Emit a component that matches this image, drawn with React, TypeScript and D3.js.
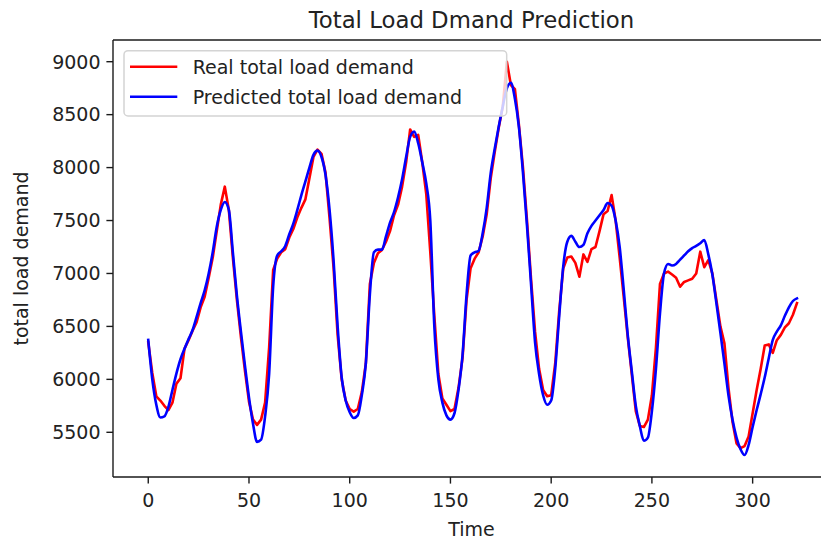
import React, { useEffect, useRef } from 'react';
import * as d3 from 'd3';

// one sample every 2 time steps
const timeStep = 2;

const realLoad = [
  6350, 6060, 5840, 5800, 5750, 5710, 5780, 5960, 6010, 6290,
  6370, 6460, 6540, 6680, 6780, 6960, 7150, 7400, 7650, 7820,
  7600, 7150, 6750, 6400, 6080, 5790, 5620, 5570, 5620, 5780,
  6300, 7033, 7140, 7200, 7230, 7340, 7420, 7530, 7620, 7700,
  7900, 8100, 8170, 8130, 7950, 7520, 7050, 6420, 6000, 5800,
  5720, 5695, 5720, 5880, 6150, 6900, 7100, 7190, 7222, 7300,
  7400, 7550, 7650, 7820, 8050, 8360, 8290, 8308, 8050, 7750,
  7200, 6600, 6050, 5820, 5760, 5700, 5720, 5920, 6200, 6750,
  7050, 7140, 7200, 7350, 7560, 7900, 8150, 8380, 8580, 9000,
  8780, 8740, 8400, 8000, 7500, 6950, 6450, 6100, 5900, 5840,
  5850, 6150, 6650, 7050, 7150, 7160, 7100, 6970, 7180, 7110,
  7230, 7250, 7400, 7560, 7590, 7740, 7500, 7150, 6780, 6400,
  6050, 5700, 5560, 5550, 5620, 5850, 6300, 6900, 7000, 7017,
  6990, 6960, 6875, 6920, 6935, 6950, 7000, 7206, 7060, 7127,
  7001, 6750, 6500, 6340, 5920, 5600, 5396, 5350, 5370, 5460,
  5680, 5900, 6100, 6320, 6330, 6250, 6370, 6420, 6490, 6530,
  6610, 6720,
];

const predictedLoad = [
  6372, 6000, 5760, 5640, 5650, 5740, 5900, 6057, 6190, 6290,
  6380, 6466, 6590, 6720, 6840, 7000, 7200, 7442, 7600, 7675,
  7600, 7200, 6790, 6450, 6130, 5830, 5580, 5410, 5430, 5650,
  6050, 6875, 7170, 7210, 7260, 7370, 7470, 7600, 7740, 7870,
  8000, 8120, 8160, 8100, 7930, 7600, 7120, 6500, 6020, 5800,
  5690, 5635, 5660, 5850, 6150, 6800, 7200, 7225, 7225, 7350,
  7480, 7580, 7720, 7890, 8100, 8290, 8340, 8230, 8050, 7850,
  7500, 6500, 6000, 5780, 5660, 5620, 5680, 5900, 6230, 6800,
  7170, 7200, 7215, 7380, 7620, 7950, 8180, 8390, 8580, 8750,
  8800, 8650, 8380, 7950, 7450, 6900, 6350, 6050, 5850, 5760,
  5800, 6100, 6600, 7070, 7300, 7355, 7300, 7250, 7270, 7380,
  7450, 7500, 7550, 7600, 7665, 7640, 7500, 7250, 6850, 6420,
  6080, 5750, 5560, 5420, 5450, 5700, 6100, 6620, 7000, 7090,
  7075, 7090, 7130, 7170, 7210, 7240, 7260, 7285, 7315, 7180,
  6990, 6720, 6440, 6150, 5850, 5620, 5450, 5340, 5285, 5380,
  5550, 5710, 5860, 6020, 6200, 6372, 6450, 6510, 6600, 6680,
  6740, 6765,
];

const xTicks = [0, 50, 100, 150, 200, 250, 300];
const yTicks = [5500, 6000, 6500, 7000, 7500, 8000, 8500, 9000];

const seriesNames = ['Real total load demand', 'Predicted total load demand'];
const seriesColors = ['#ff0000', '#0000ff'];

export default function App() {
  const svgRef = useRef<SVGSVGElement>(null);
  const width = 821;
  const height = 541;

  useEffect(() => {
    const font = 'DejaVu Sans, sans-serif';
    const box = { left: 113, right: 830, top: 40, bottom: 477 };

    const svg = d3.select(svgRef.current);
    svg.selectAll('*').remove();

    const x = d3.scaleLinear().domain([-17.5, 338.4]).range([box.left, box.right]);
    const y = d3.scaleLinear().domain([5500, 9000]).range([432.3, 61.7]);

    svg.append('rect').attr('width', width).attr('height', height).attr('fill', '#fff');

    // series: the real one is jagged, the prediction is smooth
    const curves = [d3.curveLinear, d3.curveMonotoneX];
    [realLoad, predictedLoad].forEach((values, i) => {
      const line = d3
        .line<number>()
        .x((_, j) => x(j * timeStep))
        .y(d => y(d))
        .curve(curves[i]);
      svg
        .append('path')
        .datum(values)
        .attr('d', line)
        .attr('fill', 'none')
        .attr('stroke', seriesColors[i])
        .attr('stroke-width', 2.6)
        .attr('stroke-linejoin', 'round')
        .attr('stroke-linecap', 'square');
    });

    // spines
    const spine = svg.append('g').attr('stroke', '#1a1a1a').attr('stroke-width', 1.4);
    spine.append('line').attr('x1', box.left).attr('x2', box.left).attr('y1', box.top).attr('y2', box.bottom);
    spine.append('line').attr('x1', box.left).attr('x2', box.right).attr('y1', box.top).attr('y2', box.top);
    spine.append('line').attr('x1', box.left).attr('x2', box.right).attr('y1', box.bottom).attr('y2', box.bottom);
    spine.append('line').attr('x1', box.right).attr('x2', box.right).attr('y1', box.top).attr('y2', box.bottom);

    // x ticks
    const xg = svg.append('g');
    xg.selectAll('line')
      .data(xTicks)
      .enter()
      .append('line')
      .attr('x1', d => x(d))
      .attr('x2', d => x(d))
      .attr('y1', box.bottom)
      .attr('y2', box.bottom + 6.6)
      .attr('stroke', '#1a1a1a')
      .attr('stroke-width', 1.4);
    xg.selectAll('text')
      .data(xTicks)
      .enter()
      .append('text')
      .attr('x', d => x(d))
      .attr('y', 507)
      .attr('text-anchor', 'middle')
      .attr('font-family', font)
      .attr('font-size', 19)
      .attr('fill', '#222')
      .text(d => String(d));

    // y ticks
    const yg = svg.append('g');
    yg.selectAll('line')
      .data(yTicks)
      .enter()
      .append('line')
      .attr('x1', box.left - 6.6)
      .attr('x2', box.left)
      .attr('y1', d => y(d))
      .attr('y2', d => y(d))
      .attr('stroke', '#1a1a1a')
      .attr('stroke-width', 1.4);
    yg.selectAll('text')
      .data(yTicks)
      .enter()
      .append('text')
      .attr('x', box.left - 12.5)
      .attr('y', d => y(d) + 6.8)
      .attr('text-anchor', 'end')
      .attr('font-family', font)
      .attr('font-size', 19)
      .attr('fill', '#222')
      .text(d => String(d));

    // labels
    svg.append('text')
      .attr('x', (box.left + box.right) / 2)
      .attr('y', 536)
      .attr('text-anchor', 'middle')
      .attr('font-family', font)
      .attr('font-size', 19)
      .attr('fill', '#222')
      .text('Time');

    svg.append('text')
      .attr('transform', `translate(28, ${(box.top + box.bottom) / 2}) rotate(-90)`)
      .attr('text-anchor', 'middle')
      .attr('font-family', font)
      .attr('font-size', 19)
      .attr('fill', '#222')
      .text('total load demand');

    svg.append('text')
      .attr('x', (box.left + box.right) / 2)
      .attr('y', 28)
      .attr('text-anchor', 'middle')
      .attr('font-family', font)
      .attr('font-size', 22.8)
      .attr('fill', '#222')
      .text('Total Load Dmand Prediction');

    // legend
    const legend = svg.append('g');
    legend.append('rect')
      .attr('x', 124)
      .attr('y', 50.7)
      .attr('width', 382.7)
      .attr('height', 65.3)
      .attr('rx', 4)
      .attr('fill', 'rgba(255,255,255,0.8)')
      .attr('stroke', '#d4d4d4')
      .attr('stroke-width', 1.5);
    seriesNames.forEach((name, i) => {
      const cy = 66.7 + i * 30;
      legend.append('line')
        .attr('x1', 130)
        .attr('x2', 177.3)
        .attr('y1', cy)
        .attr('y2', cy)
        .attr('stroke', seriesColors[i])
        .attr('stroke-width', 2.6);
      legend.append('text')
        .attr('x', 192.7)
        .attr('y', cy + 6.8)
        .attr('font-family', font)
        .attr('font-size', 19)
        .attr('fill', '#222')
        .text(name);
    });
  }, []);

  return (
    <svg
      ref={svgRef}
      width={width}
      height={height}
      style={{ position: 'absolute', left: 0, top: 0, display: 'block' }}
    />
  );
}
